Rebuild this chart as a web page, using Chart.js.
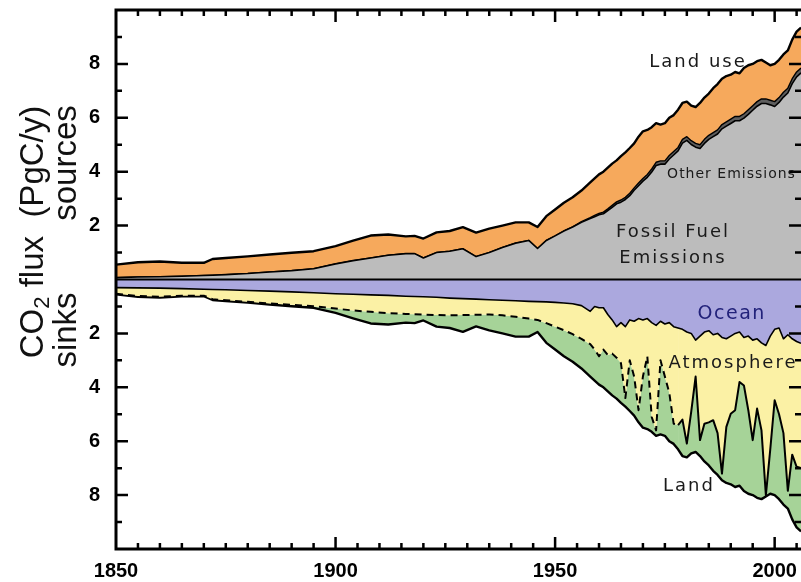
<!DOCTYPE html>
<html>
<head>
<meta charset="utf-8">
<script src="https://cdn.jsdelivr.net/npm/chart.js@4.4.1/dist/chart.umd.min.js"></script>
<style>
  html, body { margin: 0; padding: 0; background: #ffffff; overflow: hidden; }
  canvas { display: block; }
</style>
</head>
<body>
<canvas id="budget" width="801" height="582"></canvas>
<script>
// Global carbon budget, PgC per year. Sources are stacked upward, sinks downward.
const years = [
  1850, 1855, 1860, 1865, 1870, 1872, 1875, 1880, 1885, 1890, 1895, 1900, 1904, 1908, 1912, 1916,
  1918, 1920, 1923, 1926, 1929, 1932, 1935, 1938, 1941, 1944, 1946, 1948, 1950, 1952, 1954, 1956,
  1958, 1959, 1960, 1961, 1962, 1963, 1964, 1965, 1966, 1967, 1968, 1969, 1970, 1971, 1972, 1973,
  1974, 1975, 1976, 1977, 1978, 1979, 1980, 1981, 1982, 1983, 1984, 1985, 1986, 1987, 1988, 1989,
  1990, 1991, 1992, 1993, 1994, 1995, 1996, 1997, 1998, 1999, 2000, 2001, 2002, 2003, 2004, 2005,
  2006
];

// Sources
const fossilFuel = [
  0.07, 0.09, 0.10, 0.12, 0.15, 0.16, 0.18, 0.22, 0.28, 0.33, 0.40, 0.58, 0.70, 0.80, 0.90, 0.96,
  0.96, 0.80, 1.00, 1.05, 1.14, 0.85, 1.00, 1.19, 1.35, 1.45, 1.15, 1.45, 1.62, 1.80, 1.95, 2.12,
  2.26, 2.33, 2.40, 2.44, 2.56, 2.68, 2.81, 2.87, 2.97, 3.11, 3.31, 3.48, 3.65, 3.79, 3.99, 4.23,
  4.28, 4.28, 4.47, 4.62, 4.77, 5.06, 5.16, 5.01, 4.91, 4.86, 5.05, 5.20, 5.30, 5.40, 5.59, 5.69,
  5.79, 5.89, 5.89, 5.99, 6.13, 6.28, 6.43, 6.53, 6.53, 6.48, 6.42, 6.57, 6.77, 6.92, 7.27, 7.52,
  7.67
];
const otherEmissions = [
  0, 0, 0, 0, 0, 0, 0, 0, 0, 0, 0, 0, 0, 0, 0, 0,
  0, 0, 0, 0, 0, 0, 0, 0, 0, 0, 0, 0, 0, 0, 0, 0.03,
  0.04, 0.05, 0.05, 0.06, 0.06, 0.07, 0.07, 0.08, 0.08, 0.09, 0.09, 0.10, 0.10, 0.11, 0.11, 0.12,
  0.12, 0.12, 0.13, 0.13, 0.13, 0.14, 0.14, 0.14, 0.14, 0.14, 0.15, 0.15, 0.15, 0.15, 0.16, 0.16,
  0.16, 0.16, 0.16, 0.16, 0.17, 0.17, 0.17, 0.17, 0.17, 0.17, 0.18, 0.18, 0.18, 0.18, 0.18, 0.18,
  0.18
];
const landUseChange = [
  0.48, 0.55, 0.57, 0.50, 0.47, 0.60, 0.62, 0.64, 0.65, 0.66, 0.65, 0.66, 0.74, 0.83, 0.77, 0.64,
  0.66, 0.72, 0.75, 0.75, 0.80, 0.89, 0.89, 0.81, 0.77, 0.67, 0.80, 0.90, 0.98, 1.05, 1.10, 1.15,
  1.30, 1.37, 1.45, 1.50, 1.53, 1.55, 1.54, 1.63, 1.67, 1.68, 1.65, 1.72, 1.75, 1.65, 1.55, 1.45,
  1.35, 1.40, 1.40, 1.35, 1.40, 1.35, 1.30, 1.30, 1.35, 1.55, 1.55, 1.55, 1.65, 1.70, 1.70, 1.70,
  1.65, 1.65, 1.60, 1.70, 1.65, 1.55, 1.50, 1.45, 1.35, 1.30, 1.40, 1.40, 1.40, 1.40, 1.45, 1.50,
  1.50
];

// Sinks (magnitudes; drawn below zero)
const oceanSink = [
  0.30, 0.31, 0.32, 0.34, 0.36, 0.37, 0.38, 0.41, 0.43, 0.46, 0.49, 0.53, 0.55, 0.57, 0.59, 0.62,
  0.63, 0.64, 0.66, 0.69, 0.71, 0.73, 0.75, 0.77, 0.79, 0.81, 0.82, 0.83, 0.85, 0.87, 0.90, 0.97,
  1.18, 1.00, 1.05, 1.05, 1.30, 1.50, 1.75, 1.60, 1.75, 1.50, 1.55, 1.45, 1.50, 1.45, 1.60, 1.70,
  1.55, 1.65, 1.60, 1.75, 1.80, 1.85, 1.95, 2.00, 2.25, 2.10, 1.95, 1.90, 2.05, 2.00, 2.15, 2.20,
  2.10, 2.00, 1.95, 2.15, 2.10, 2.25, 2.20, 2.35, 2.45, 2.10, 1.85, 1.80, 2.20, 2.05, 2.20, 2.30,
  2.37
];
const atmosphereGrowth = [
  0.23, 0.30, 0.32, 0.26, 0.24, 0.36, 0.39, 0.42, 0.46, 0.48, 0.50, 0.55, 0.60, 0.63, 0.66, 0.66,
  0.66, 0.66, 0.66, 0.64, 0.61, 0.58, 0.55, 0.56, 0.59, 0.64, 0.68, 0.79, 0.90, 1.01, 1.13, 1.23,
  1.22, 1.60, 1.80, 1.55, 1.50, 1.25, 1.15, 1.50, 2.65, 1.50, 2.05, 3.40, 2.10, 1.40, 3.50, 3.90,
  1.45, 1.95, 2.60, 3.60, 3.60, 3.35, 4.14, 2.90, 1.35, 3.86, 3.40, 3.40, 3.17, 3.70, 5.05, 3.27,
  2.88, 2.85, 1.85, 1.78, 2.75, 3.71, 2.59, 3.25, 5.55, 4.20, 2.63, 3.20, 3.50, 5.79, 4.30, 4.65,
  4.63
];
const landSink = [
  0.02, 0.03, 0.03, 0.02, 0.02, 0.03, 0.03, 0.03, 0.04, 0.05, 0.06, 0.16, 0.29, 0.43, 0.42, 0.32,
  0.33, 0.22, 0.43, 0.47, 0.62, 0.43, 0.59, 0.67, 0.74, 0.67, 0.45, 0.73, 0.85, 0.97, 1.02, 1.10,
  1.20, 1.15, 1.05, 1.40, 1.35, 1.55, 1.52, 1.48, 0.32, 1.88, 1.45, 0.45, 1.90, 2.70, 0.55, 0.20,
  2.75, 2.20, 1.80, 0.75, 0.90, 1.35, 0.51, 1.55, 2.80, 0.59, 1.40, 1.60, 1.88, 1.55, 0.25, 2.08,
  2.62, 2.85, 3.85, 3.92, 3.10, 2.04, 3.31, 2.55, 0.05, 1.65, 3.52, 3.15, 2.65, 0.66, 2.40, 2.25,
  2.35
];

// Axis ticks
const xTickYears = [1850, 1900, 1950, 2000];
const yTickValues = [-8, -6, -4, -2, 2, 4, 6, 8];
// Atmospheric record is drawn dashed up to this year
const dashedUntil = 1978;

const toPoints = (vals, sign) => vals.map((v, i) => ({ x: years[i], y: sign * v }));

const COLORS = {
  fossil: '#bcbcbc',
  other: '#5e5e5e',
  landUse: '#f6a95c',
  ocean: '#aba8de',
  atmosphere: '#fbf1a5',
  land: '#a6d398'
};

function area(label, vals, sign, fill, color, width, extra) {
  return Object.assign({
    label,
    data: toPoints(vals, sign),
    stack: 'budget',
    fill,
    backgroundColor: color,
    borderColor: '#000',
    borderWidth: width,
    pointRadius: 0,
    tension: 0,
    borderJoinStyle: 'round'
  }, extra || {});
}

const datasets = [
  area('Fossil Fuel Emissions', fossilFuel, 1, 'origin', COLORS.fossil, 1.6),
  area('Other Emissions', otherEmissions, 1, '-1', COLORS.other, 1.4),
  area('Land use', landUseChange, 1, '-1', COLORS.landUse, 2.4),
  area('Ocean', oceanSink, -1, 'origin', COLORS.ocean, 1.6),
  area('Atmosphere', atmosphereGrowth, -1, '-1', COLORS.atmosphere, 2, {
    segment: {
      borderDash: ctx => (ctx.p0.parsed.x < dashedUntil ? [7, 5] : undefined)
    }
  }),
  area('Land', landSink, -1, '-1', COLORS.land, 2.4)
];

// Frame with inward ticks on all sides, plus the zero line
const framePlugin = {
  id: 'frame',
  afterDatasetsDraw(chart) {
    const { ctx, chartArea: a, scales: { x, y } } = chart;
    ctx.save();
    ctx.strokeStyle = '#000';
    ctx.lineCap = 'butt';

    ctx.lineWidth = 2;
    const y0 = y.getPixelForValue(0);
    ctx.beginPath();
    ctx.moveTo(a.left, y0);
    ctx.lineTo(a.right, y0);
    ctx.stroke();

    ctx.lineWidth = 3;
    ctx.beginPath();
    ctx.moveTo(a.right + 2, a.top);
    ctx.lineTo(a.left, a.top);
    ctx.lineTo(a.left, a.bottom);
    ctx.lineTo(a.right + 2, a.bottom);
    ctx.stroke();

    ctx.lineWidth = 2.5;
    ctx.beginPath();
    for (let yr = 1855; yr <= 2005; yr += 5) {
      const px = x.getPixelForValue(yr);
      const len = yr % 50 === 0 ? 12 : 6;
      ctx.moveTo(px, a.bottom);
      ctx.lineTo(px, a.bottom - len);
      ctx.moveTo(px, a.top);
      ctx.lineTo(px, a.top + len);
    }
    for (let v = -9; v <= 9; v++) {
      if (v === 0) continue;
      const py = y.getPixelForValue(v);
      const len = v % 2 === 0 ? 12 : 6;
      ctx.moveTo(a.left, py);
      ctx.lineTo(a.left + len, py);
      ctx.moveTo(a.right, py);
      ctx.lineTo(a.right - len, py);
    }
    ctx.stroke();
    ctx.restore();
  }
};

function spacedText(ctx, text, cx, cy, font, color, spacing) {
  ctx.save();
  ctx.font = font;
  ctx.fillStyle = color;
  ctx.textAlign = 'center';
  ctx.textBaseline = 'middle';
  ctx.letterSpacing = spacing + 'px';
  ctx.fillText(text, cx + spacing / 2, cy);
  ctx.restore();
}

// Axis title and in-plot labels
const labelPlugin = {
  id: 'labels',
  afterDraw(chart) {
    const { ctx } = chart;
    const titleFont = '33px "Liberation Sans", Arial, sans-serif';
    const subFont = '22px "Liberation Sans", Arial, sans-serif';

    // Rotated y-axis title with subscript; baseline runs along the right side of the glyphs
    ctx.save();
    ctx.translate(43, 232);
    ctx.rotate(-Math.PI / 2);
    ctx.fillStyle = '#111';
    ctx.textBaseline = 'alphabetic';
    ctx.textAlign = 'left';
    ctx.font = titleFont;
    const partA = 'CO';
    const partC = ' flux  (PgC/y)';
    const wA = ctx.measureText(partA).width;
    const wC = ctx.measureText(partC).width;
    ctx.font = subFont;
    const wB = ctx.measureText('2').width;
    const total = wA + wB + wC;
    let cx = -total / 2;
    ctx.font = titleFont;
    ctx.fillText(partA, cx, 0);
    cx += wA;
    ctx.font = subFont;
    ctx.fillText('2', cx, 6);
    cx += wB;
    ctx.font = titleFont;
    ctx.fillText(partC, cx, 0);

    ctx.restore();

    ctx.save();
    ctx.fillStyle = '#111';
    ctx.font = titleFont;
    ctx.textAlign = 'center';
    ctx.textBaseline = 'alphabetic';
    ctx.translate(76, 163);
    ctx.rotate(-Math.PI / 2);
    ctx.fillText('sources', 0, 0);
    ctx.restore();

    ctx.save();
    ctx.fillStyle = '#111';
    ctx.font = titleFont;
    ctx.textAlign = 'center';
    ctx.textBaseline = 'alphabetic';
    ctx.translate(76, 330);
    ctx.rotate(-Math.PI / 2);
    ctx.fillText('sinks', 0, 0);
    ctx.restore();

    const f = '18px "DejaVu Sans", sans-serif';
    spacedText(ctx, 'Land use', 697, 62, f, '#1a1a1a', 2);
    spacedText(ctx, 'Other Emissions', 731, 174, '14px "DejaVu Sans", sans-serif', '#1a1a1a', 1);
    spacedText(ctx, 'Fossil Fuel', 672, 232, f, '#1a1a1a', 2);
    spacedText(ctx, 'Emissions', 672, 258, f, '#1a1a1a', 2);
    spacedText(ctx, 'Ocean', 731, 314, '19px "DejaVu Sans", sans-serif', '#22227a', 1.5);
    spacedText(ctx, 'Atmosphere', 732, 363, f, '#1a1a1a', 2);
    spacedText(ctx, 'Land', 688, 486, f, '#1a1a1a', 2);
  }
};

const tickFont = { family: '"Liberation Sans", Arial, sans-serif', size: 20, weight: 'bold' };

new Chart(document.getElementById('budget'), {
  type: 'line',
  data: { datasets },
  options: {
    responsive: false,
    animation: false,
    events: [],
    layout: { padding: { top: 10, right: 0, bottom: 0, left: 0 } },
    plugins: {
      legend: { display: false },
      tooltip: { enabled: false },
      filler: { propagate: false }
    },
    scales: {
      x: {
        type: 'linear',
        min: 1850,
        max: 2006,
        grid: { display: false, drawTicks: false },
        border: { display: false },
        afterBuildTicks: s => { s.ticks = xTickYears.map(v => ({ value: v })); },
        afterFit: s => { s.height = 33; s.paddingLeft = 0; s.paddingRight = 0; },
        ticks: {
          font: tickFont,
          color: '#000',
          padding: 10,
          maxRotation: 0,
          autoSkip: false,
          callback: v => String(v)
        }
      },
      y: {
        type: 'linear',
        min: -10,
        max: 10,
        stacked: true,
        grid: { display: false, drawTicks: false },
        border: { display: false },
        afterBuildTicks: s => { s.ticks = yTickValues.map(v => ({ value: v })); },
        afterFit: s => { s.width = 116; s.paddingTop = 0; s.paddingBottom = 0; },
        ticks: {
          font: tickFont,
          color: '#000',
          padding: 16,
          autoSkip: false,
          callback: v => String(Math.abs(v))
        }
      }
    }
  },
  plugins: [framePlugin, labelPlugin]
});
</script>
</body>
</html>
